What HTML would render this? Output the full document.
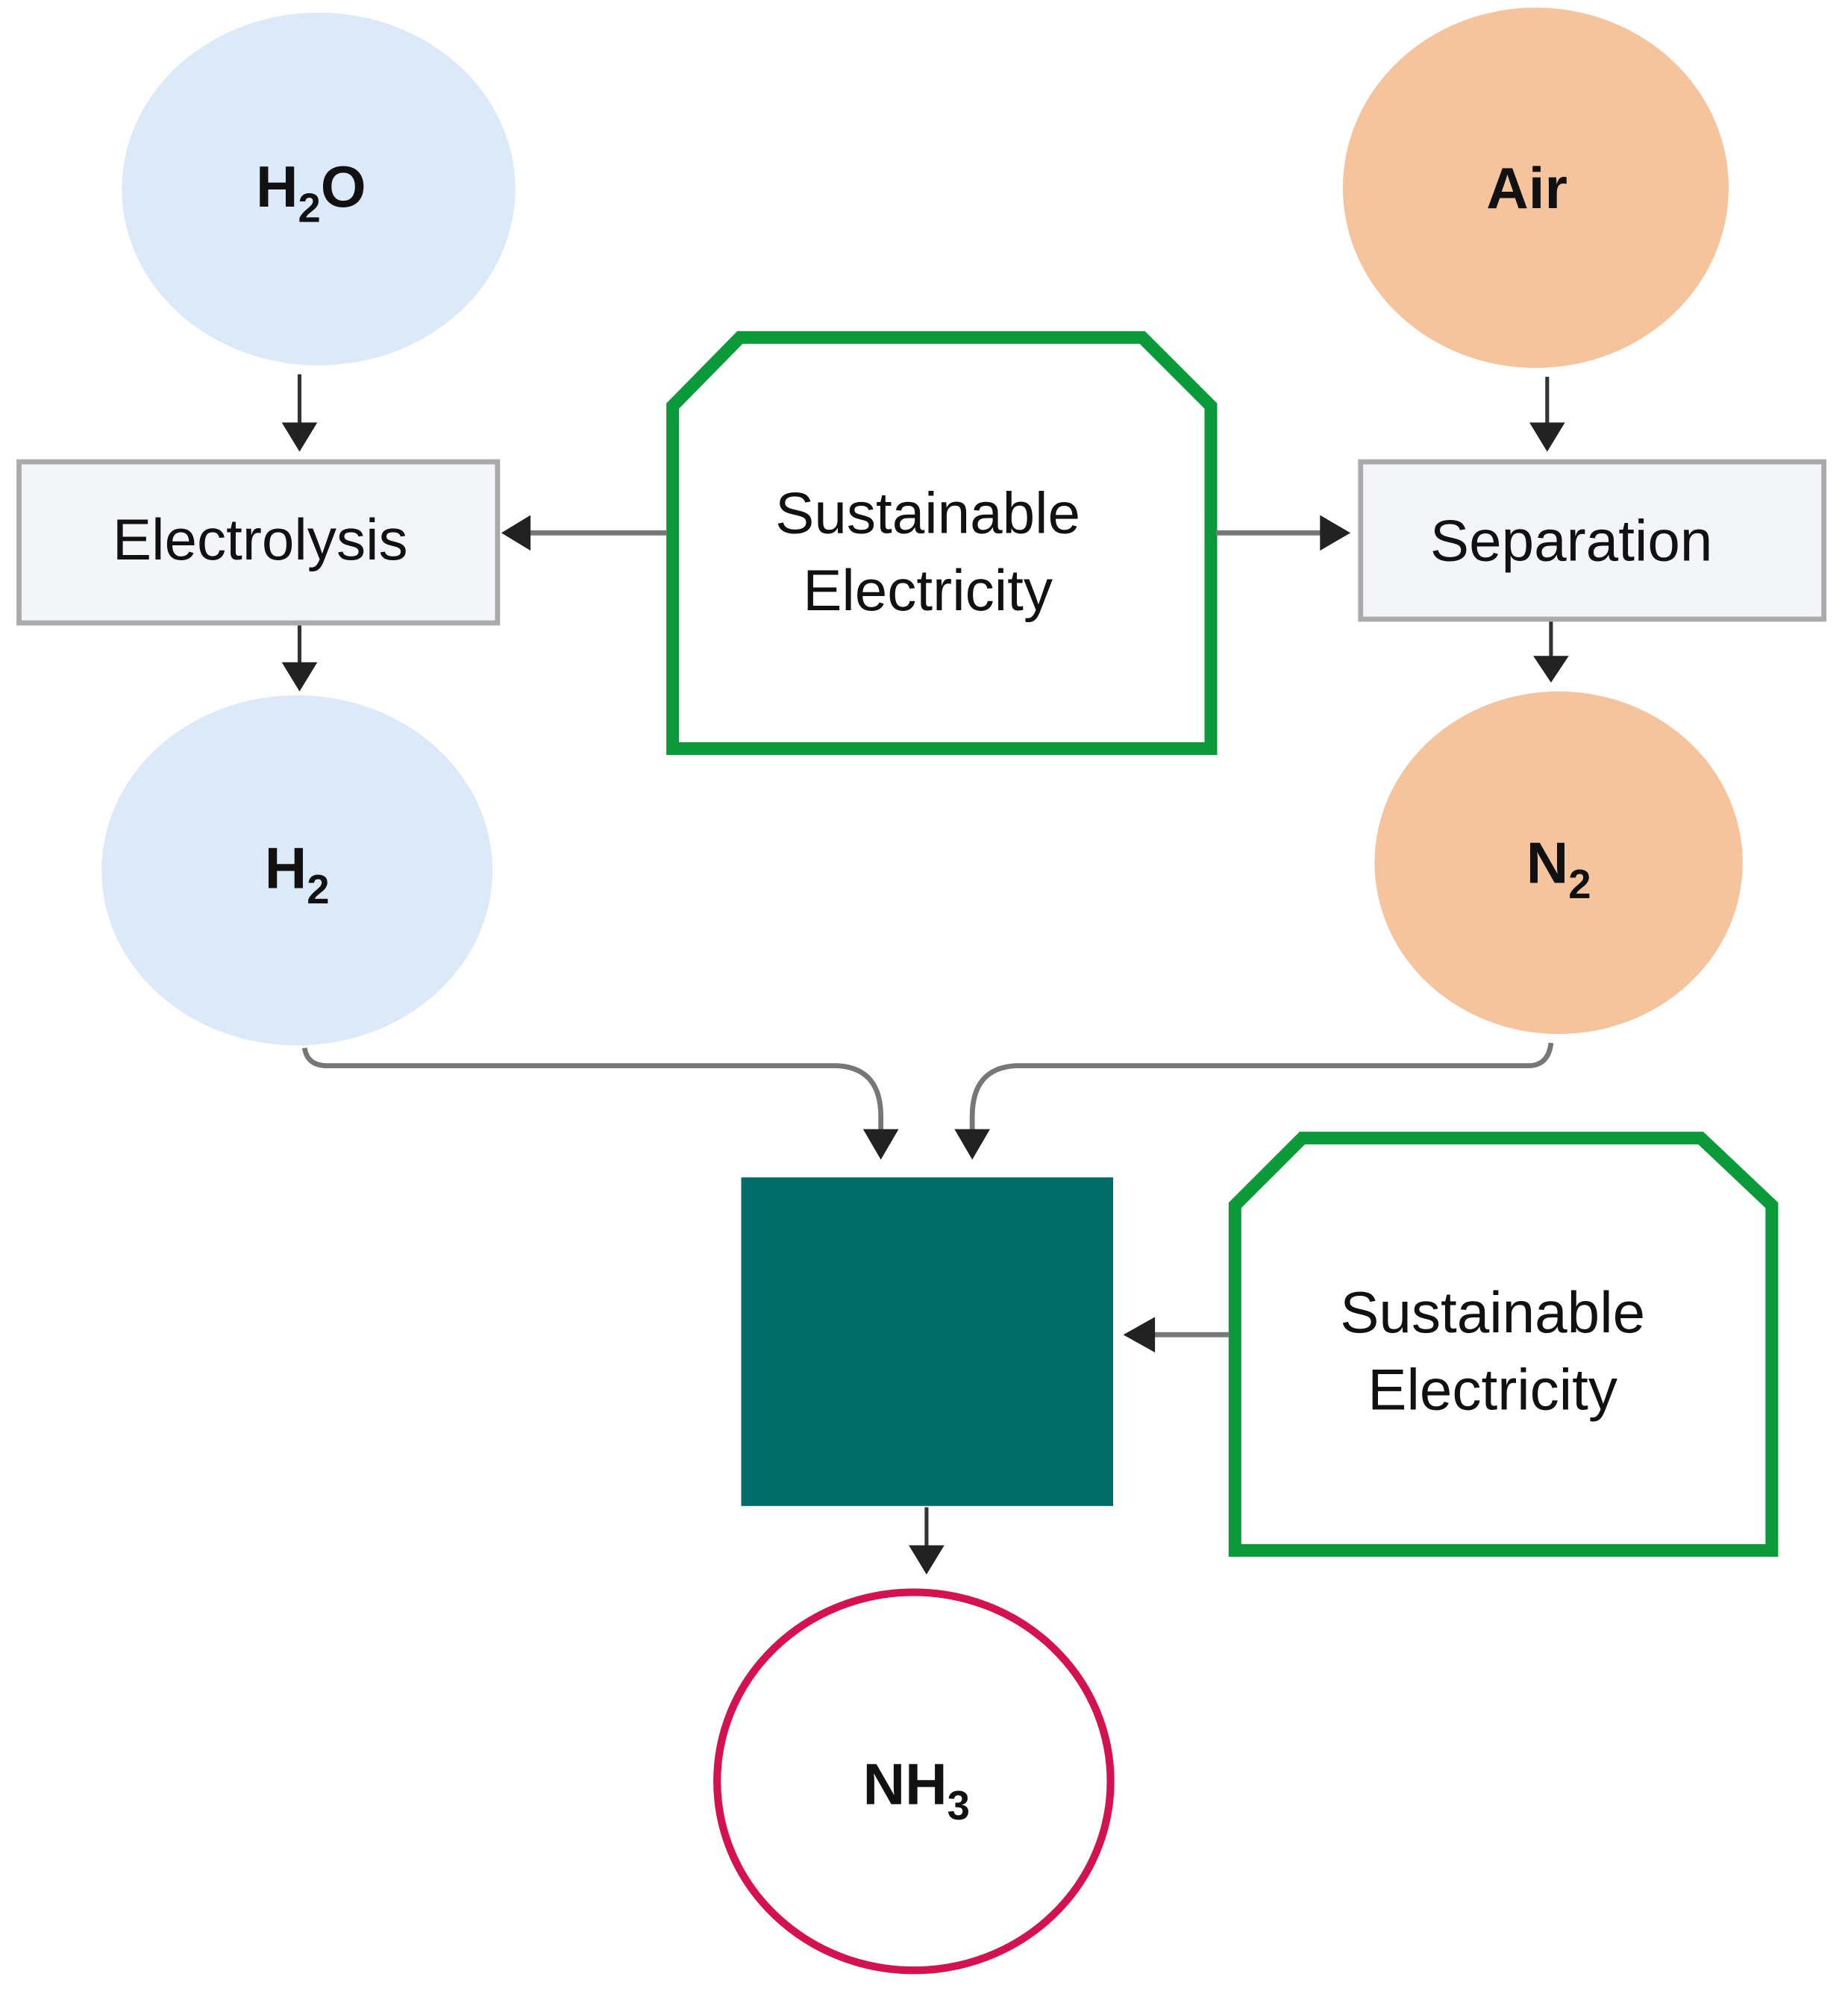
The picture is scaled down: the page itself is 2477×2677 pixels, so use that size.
<!DOCTYPE html>
<html><head><meta charset="utf-8"><style>
html,body{margin:0;padding:0;background:#fff;}
svg{display:block;}
text{font-family:"Liberation Sans",Arial,sans-serif;}
</style></head><body>
<svg width="2477" height="2677" viewBox="0 0 1456 1574" preserveAspectRatio="none" xmlns="http://www.w3.org/2000/svg">
<defs>
<marker id="ah" viewBox="0 0 10 10" refX="9" refY="5" markerWidth="5" markerHeight="5" orient="auto" markerUnits="userSpaceOnUse">
</marker>
</defs>
<rect width="1456" height="1574" fill="#fff"/>
<!-- ellipses -->
<ellipse cx="251" cy="149" rx="155" ry="139" fill="#dce9f8"/>
<ellipse cx="1210" cy="148" rx="152" ry="142" fill="#f5c49c"/>
<ellipse cx="234" cy="686" rx="154" ry="138" fill="#dce9f8"/>
<ellipse cx="1228" cy="680" rx="145" ry="135" fill="#f5c49c"/>
<ellipse cx="720" cy="1404" rx="155" ry="149" fill="#fff" stroke="#d3124f" stroke-width="6"/>
<!-- rects -->
<rect x="15" y="364" width="377" height="127" fill="#f3f5f8" stroke="#aaaaaa" stroke-width="4"/>
<rect x="1072" y="364" width="365" height="124" fill="#f3f5f8" stroke="#aaaaaa" stroke-width="4"/>
<!-- green boxes -->
<polygon points="530,320 583,266 900,266 954,320 954,590 530,590" fill="#fff" stroke="#0a9a3a" stroke-width="10"/>
<polygon points="973,950 1026,897 1340,897 1396,950 1396,1222 973,1222" fill="#fff" stroke="#0a9a3a" stroke-width="10"/>
<rect x="584" y="928" width="293" height="259" fill="#016b68"/>
<!-- lines -->
<g stroke="#333" stroke-width="3" fill="none">
<line x1="236" y1="295" x2="236" y2="335"/>
<line x1="236" y1="493" x2="236" y2="525"/>
<line x1="1219" y1="297" x2="1219" y2="335"/>
<line x1="1222" y1="490" x2="1222" y2="520"/>
<line x1="730" y1="1188" x2="730" y2="1222"/>
</g>
<g stroke="#777" stroke-width="4" fill="none">
<line x1="525" y1="420" x2="415" y2="420"/>
<line x1="958" y1="420" x2="1042" y2="420"/>
<line x1="968" y1="1052" x2="905" y2="1052"/>
<path d="M240,826 Q242,840 258,840 L660,840 Q694,842 694,880 L694,892"/>
<path d="M1222,822 Q1220,840 1204,840 L800,840 Q766,842 766,880 L766,892"/>
</g>
<g fill="#222">
<polygon points="222,333 250,333 236,356"/>
<polygon points="222,522 250,522 236,545"/>
<polygon points="1205,333 1233,333 1219,356"/>
<polygon points="1208,517 1236,517 1222,538"/>
<polygon points="716,1218 744,1218 730,1241"/>
<polygon points="680,890 708,890 694,914"/>
<polygon points="752,890 780,890 766,914"/>
<polygon points="418,406 418,434 395,420"/>
<polygon points="1040,406 1040,434 1064,420"/>
<polygon points="910,1038 910,1066 885,1052"/>
</g>
<!-- text -->
<g font-size="46" text-anchor="middle" fill="#111">
<text x="205" y="441">Electrolysis</text>
<text x="1238" y="442">Separation</text>
<text x="731" y="420">Sustainable</text>
<text x="731" y="481">Electricity</text>
<text x="1176" y="1050">Sustainable</text>
<text x="1176" y="1111">Electricity</text>
</g>
<g font-size="46" font-weight="bold" fill="#111" text-anchor="middle">
<text x="245" y="163">H<tspan font-size="32" dy="12">2</tspan><tspan dy="-12">O</tspan></text>
<text x="1203" y="164">Air</text>
<text x="234" y="700">H<tspan font-size="32" dy="12">2</tspan></text>
<text x="1228" y="696">N<tspan font-size="32" dy="12">2</tspan></text>
<text x="722" y="1422">NH<tspan font-size="32" dy="12">3</tspan></text>
</g>
</svg>
</body></html>
